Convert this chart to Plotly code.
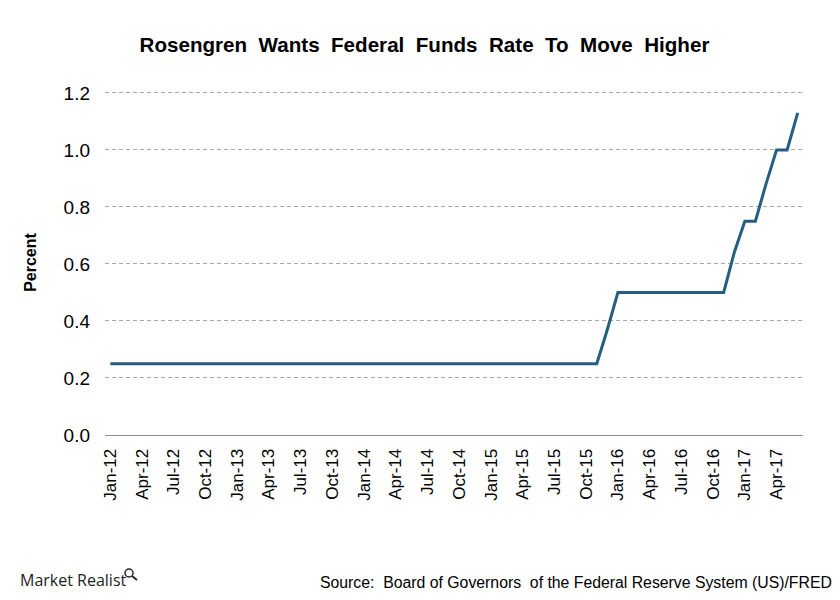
import plotly.graph_objects as go

month_names = ["Jan", "Feb", "Mar", "Apr", "May", "Jun", "Jul", "Aug", "Sep", "Oct", "Nov", "Dec"]
years = ["12", "13", "14", "15", "16", "17"]
months = [f"{m}-{y}" for y in years for m in month_names][:66]  # Jan-12 .. Jun-17

# Federal funds rate (upper bound, monthly average), percent
rate = (
    [0.25] * 47            # Jan-12 .. Nov-15
    + [0.37]               # Dec-15
    + [0.50] * 11          # Jan-16 .. Nov-16
    + [0.64]               # Dec-16
    + [0.75, 0.75]         # Jan-17, Feb-17
    + [0.88]               # Mar-17
    + [1.00, 1.00]         # Apr-17, May-17
    + [1.13]               # Jun-17
)

tick_labels = months[::3]
y_ticks = [0.0, 0.2, 0.4, 0.6, 0.8, 1.0, 1.2]

# page has an 8px body margin; figure sized to fit the 840x600 window
W, H = 832, 592
L, R, T, B = 97, 37, 82, 165
PW, PH = W - L - R, H - T - B


def px(xp):  # page x -> paper x
    return (xp - 8 - L) / PW


def py(yp):  # page y -> paper y
    return (H - B - (yp - 8)) / PH


fig = go.Figure()
fig.add_trace(go.Scatter(
    x=months, y=rate, mode="lines",
    line=dict(color="#245e82", width=3),
    hoverinfo="x+y", showlegend=False,
))

fig.update_layout(
    width=W, height=H,
    margin=dict(l=L, r=R, t=T, b=B),
    paper_bgcolor="white", plot_bgcolor="white",
    font=dict(family="Liberation Sans, Arial, sans-serif", color="#000000"),
    title=dict(
        text="<b>Rosengren  Wants  Federal  Funds  Rate  To  Move  Higher</b>",
        xref="container", x=(424.5 - 8) / W, xanchor="center",
        y=1 - (45 - 8) / H, yanchor="middle",
        font=dict(size=20.6, color="#000000"),
    ),
    xaxis=dict(
        type="category", range=[-0.5, 65.5],
        tickmode="array", tickvals=tick_labels, ticktext=tick_labels,
        tickangle=-90, tickfont=dict(size=17, color="#000000"),
        ticklabelstandoff=6,
        showgrid=False, showline=True, linecolor="#8c8c8c", linewidth=1,
        ticks="", ticklen=0, zeroline=False,
    ),
    yaxis=dict(
        range=[0, 1.21], tickvals=y_ticks, tickformat=".1f",
        tickfont=dict(size=19, color="#000000"),
        ticklabelstandoff=14,
        showgrid=True, gridcolor="#a6a6a6", griddash="4px,3px", gridwidth=1,
        zeroline=False, showline=False, ticks="", ticklen=0,
        title=dict(text="<b>Percent</b>", font=dict(size=16, color="#000000"), standoff=22),
    ),
    annotations=[
        dict(text="Market Realist", xref="paper", yref="paper",
             x=px(18), y=py(580), xanchor="left", yanchor="middle",
             showarrow=False, font=dict(size=16, color="#222222", family="Open Sans, sans-serif")),
        dict(text="Source:  Board of Governors  of the Federal Reserve System (US)/FRED",
             xref="paper", yref="paper",
             x=px(834), y=py(582), xanchor="right", yanchor="middle",
             showarrow=False, font=dict(size=15.8, color="#000000")),
    ],
    shapes=[
        dict(type="circle", xref="paper", yref="paper",
             x0=px(125), x1=px(133), y0=py(577), y1=py(569),
             line=dict(color="#222222", width=1.5)),
        dict(type="line", xref="paper", yref="paper",
             x0=px(132), x1=px(137), y0=py(576), y1=py(580),
             line=dict(color="#222222", width=2)),
    ],
)

fig.write_html("out.html")
